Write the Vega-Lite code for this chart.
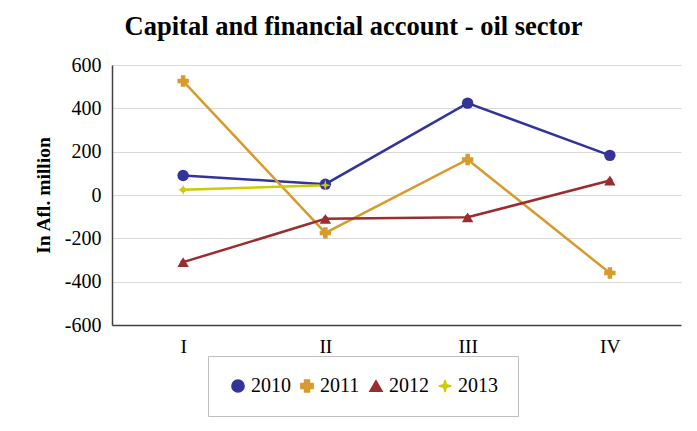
{
  "$schema": "https://vega.github.io/schema/vega-lite/v6.json",
  "autosize": "none",
  "width": 569,
  "height": 260,
  "padding": {"left": 112, "top": 65, "right": 16, "bottom": 106},
  "background": "white",
  "title": {
    "text": "Capital and financial account - oil sector",
    "font": "Liberation Serif",
    "fontSize": 26.5,
    "fontWeight": "bold",
    "color": "#000000",
    "anchor": "middle",
    "dx": -43,
    "offset": 15
  },
  "data": {
    "values": [
      {"q": "I", "year": "2010", "v": 90},
      {"q": "II", "year": "2010", "v": 50},
      {"q": "III", "year": "2010", "v": 424},
      {"q": "IV", "year": "2010", "v": 183},
      {"q": "I", "year": "2011", "v": 526},
      {"q": "II", "year": "2011", "v": -175},
      {"q": "III", "year": "2011", "v": 164},
      {"q": "IV", "year": "2011", "v": -360},
      {"q": "I", "year": "2012", "v": -310},
      {"q": "II", "year": "2012", "v": -110},
      {"q": "III", "year": "2012", "v": -103},
      {"q": "IV", "year": "2012", "v": 67},
      {"q": "I", "year": "2013", "v": 24},
      {"q": "II", "year": "2013", "v": 45}
    ]
  },
  "encoding": {
    "x": {
      "field": "q", "type": "ordinal", "sort": ["I", "II", "III", "IV"],
      "scale": {"type": "point", "padding": 0.5},
      "axis": {
        "title": null, "labelAngle": 0, "grid": false, "ticks": false,
        "domainColor": "#404040", "domainWidth": 1.5,
        "labelFont": "Times New Roman, Liberation Serif, serif", "labelFontSize": 19.5, "labelColor": "#000000",
        "labelPadding": 12
      }
    },
    "y": {
      "field": "v", "type": "quantitative",
      "scale": {"domain": [-600, 600], "nice": false},
      "axis": {
        "title": "In Afl. million", "values": [-600, -400, -200, 0, 200, 400, 600],
        "labelExpr": "datum.value < 0 ? '-' + abs(datum.value) : '' + datum.value",
        "titleFont": "Liberation Serif", "titleFontSize": 19.5, "titleFontWeight": "bold", "titleColor": "#000000",
        "titlePadding": 11,
        "ticks": false, "domainColor": "#404040", "domainWidth": 1.5,
        "gridColor": "#d9d9d9", "gridWidth": 1.2,
        "labelFont": "Times New Roman, Liberation Serif, serif", "labelFontSize": 20, "labelColor": "#000000",
        "labelPadding": 11
      }
    },
    "color": {
      "field": "year", "type": "nominal",
      "scale": {"domain": ["2010", "2011", "2012", "2013"], "range": ["#333399", "#D69A2D", "#9B2D30", "#CCCC00"]},
      "legend": {
        "title": null, "orient": "none", "legendX": 96, "legendY": 291,
        "direction": "horizontal", "columns": 4,
        "strokeColor": "#bfbfbf", "fillColor": "white",
        "padding": 20, "columnPadding": 6,
        "labelFont": "Times New Roman, Liberation Serif, serif", "labelFontSize": 20, "labelColor": "#000000",
        "symbolSize": 150, "labelOffset": 3
      }
    },
    "shape": {
      "field": "year", "type": "nominal",
      "scale": {"domain": ["2010", "2011", "2012", "2013"], "range": ["circle", "cross", "triangle-up", "M0,-1L0.2,-0.2L1,0L0.2,0.2L0,1L-0.2,0.2L-1,0L-0.2,-0.2Z"]}
    }
  },
  "layer": [
    {"mark": {"type": "line", "strokeWidth": 2.5}, "encoding": {"shape": {"value": null}}},
    {"mark": {"type": "point", "filled": true, "size": 130, "opacity": 1}}
  ],
  "config": {
    "font": "Liberation Serif",
    "view": {"stroke": null}
  }
}
